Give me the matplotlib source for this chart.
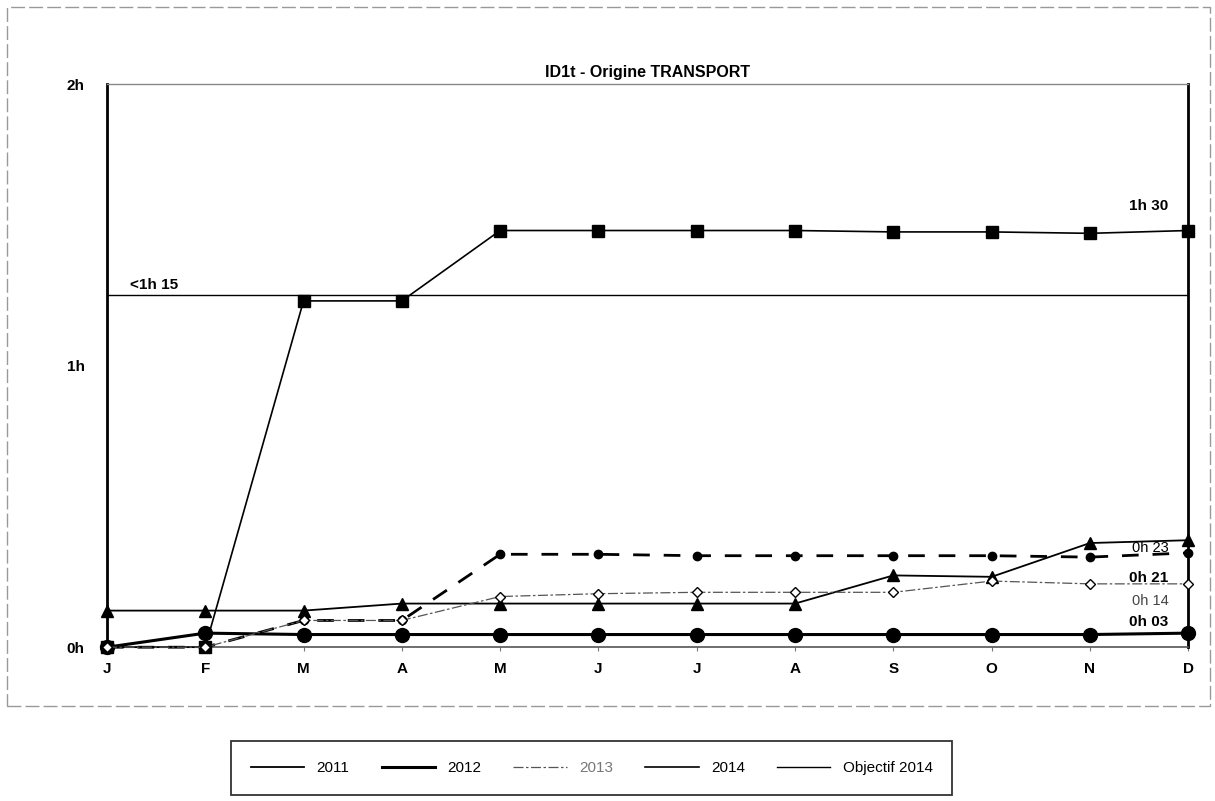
import matplotlib.pyplot as plt
from matplotlib.patches import Rectangle

plt.rcParams['font.family'] = ['Liberation Sans', 'DejaVu Sans']

months = ['J', 'F', 'M', 'A', 'M', 'J', 'J', 'A', 'S', 'O', 'N', 'D']
y_ticks = [0, 1, 2]
y_labels = ['0h', '1h', '2h']

# values in hours
v2011 = [0.13, 0.13, 0.13, 0.155, 0.155, 0.155, 0.155, 0.155, 0.255, 0.25, 0.37, 0.38]
v2012 = [0.0, 0.05, 0.045, 0.045, 0.045, 0.045, 0.045, 0.045, 0.045, 0.045, 0.045, 0.05]
v2013 = [0.0, 0.0, 0.095, 0.095, 0.18, 0.19, 0.195, 0.195, 0.195, 0.235, 0.225, 0.225]
v2014 = [0.0, 0.0, 1.23, 1.23, 1.48, 1.48, 1.48, 1.48, 1.475, 1.475, 1.47, 1.48]
v_dash = [0.0, 0.0, 0.095, 0.095, 0.33, 0.33, 0.325, 0.325, 0.325, 0.325, 0.32, 0.335]
objectif = 1.25

x = list(range(len(months)))

fig = plt.figure(figsize=(12.15, 8.01), dpi=100)
ax = fig.add_axes([0.088, 0.192, 0.89, 0.703])

l11, = ax.plot(x, v2011, color='black', lw=1.3, marker='^', ms=8, clip_on=False, zorder=4)
l12, = ax.plot(x, v2012, color='black', lw=2.2, marker='o', ms=10, clip_on=False, zorder=4)
l13, = ax.plot(x, v2013, color='#555555', lw=0.9, ls=(0, (8, 2, 2, 2)), marker='D', ms=5,
               mfc='white', mec='black', mew=1, clip_on=False, zorder=5)
ax.plot(x, v_dash, color='black', lw=2, ls=(0, (6, 5)), marker='o', ms=6, clip_on=False, zorder=3)
l14, = ax.plot(x, v2014, color='black', lw=1.2, marker='s', ms=9, clip_on=False, zorder=4)
lobj = ax.axhline(objectif, color='black', lw=1.0, zorder=2)

ax.set_xlim(0, 11)
ax.set_ylim(0, 2)
ax.set_xticks(x)
ax.set_xticklabels(months, fontsize=11, fontweight='bold')
ax.set_yticks(y_ticks)
ax.set_yticklabels(y_labels, fontsize=11, fontweight='bold')
ax.tick_params(axis='y', length=0, pad=16)
ax.tick_params(axis='x', length=3, direction='out', pad=8, color='#777777')

for s in ['left', 'right']:
    ax.spines[s].set_linewidth(2)
    ax.spines[s].set_color('black')
ax.spines['top'].set_color('#888888')
ax.spines['top'].set_linewidth(1)
ax.spines['bottom'].set_color('#555555')
ax.spines['bottom'].set_linewidth(1.2)

ax.set_title('ID1t - Origine TRANSPORT', fontsize=11.5, fontweight='bold', pad=5)

ax.text(0.23, 1.287, '<1h 15', fontsize=11, fontweight='bold', va='center')
ax.text(10.8, 1.567, '1h 30', fontsize=11, fontweight='bold', va='center', ha='right')
ax.text(10.8, 0.351, '0h 23', fontsize=10.5, va='center', ha='right')
ax.text(10.8, 0.245, '0h 21', fontsize=11, fontweight='bold', va='center', ha='right')
ax.text(10.8, 0.163, '0h 14', fontsize=10.5, color='#444444', va='center', ha='right')
ax.text(10.8, 0.089, '0h 03', fontsize=11, fontweight='bold', va='center', ha='right')

leg = fig.legend([l11, l12, l13, l14, lobj], ['2011', '2012', '2013', '2014', 'Objectif 2014'],
                 loc='upper center', bbox_to_anchor=(0.487, 0.084), ncol=5, fontsize=11,
                 frameon=True, fancybox=False, edgecolor='black', handlelength=3.5,
                 columnspacing=2.1, borderpad=1.3)
leg.get_frame().set_linewidth(1.3)
for h in leg.legend_handles:
    h.set_marker('')
leg.get_texts()[2].set_color('#777777')

fig.add_artist(Rectangle((0.006, 0.118), 0.99, 0.873, transform=fig.transFigure,
                         fill=False, edgecolor='#999999', lw=1, ls=(0, (10, 3))))

fig.savefig('out.png', dpi=100)
